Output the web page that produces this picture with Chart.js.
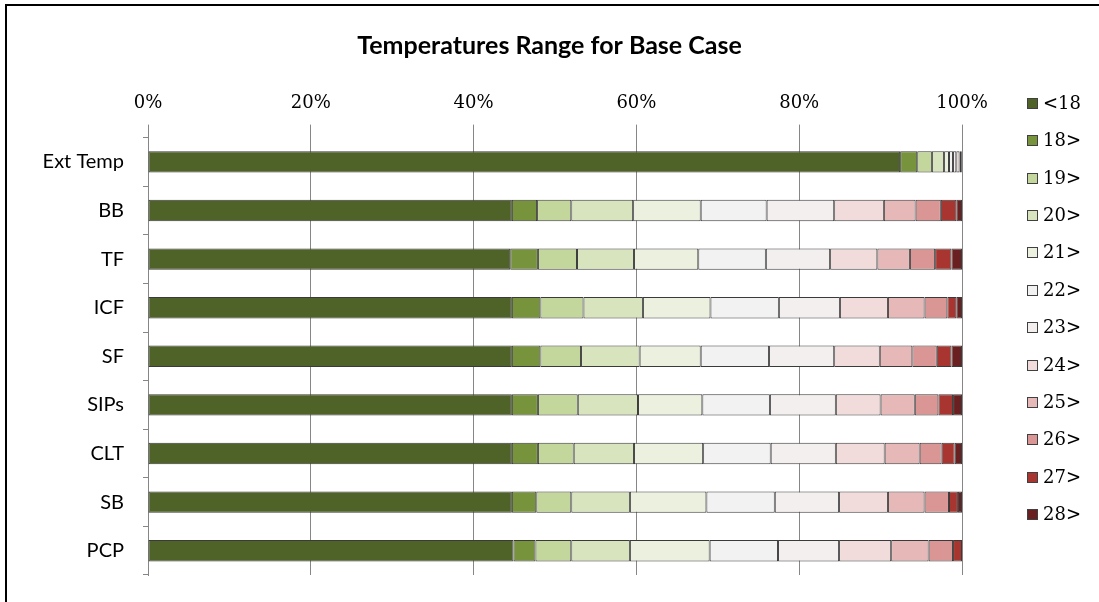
<!DOCTYPE html>
<html>
<head>
<meta charset="utf-8">
<title>Temperatures Range for Base Case</title>
<script src="https://cdn.jsdelivr.net/npm/chart.js@4.4.1/dist/chart.umd.min.js"></script>
<style>
  html, body { margin: 0; padding: 0; background: #fff; }
  #wrap { position: relative; width: 1099px; height: 602px; overflow: hidden; }
  #frame {
    position: absolute; left: 5px; top: 4px; width: 1200px; height: 700px;
    border-top: 2px solid #000; border-left: 2px solid #000; pointer-events: none;
  }
</style>
</head>
<body>
<div id="wrap">
  <canvas id="grafico" width="1099" height="602"></canvas>
  <div id="frame"></div>
</div>
<script>
// Categorías (filas) y bandas de temperatura (series)
const casos = ['Ext Temp', 'BB', 'TF', 'ICF', 'SF', 'SIPs', 'CLT', 'SB', 'PCP'];
const bandas = ['<18', '18>', '19>', '20>', '21>', '22>', '23>', '24>', '25>', '26>', '27>', '28>'];

// Porcentaje de horas en cada banda, un valor por caso
const menos18 = [92.4, 44.7, 44.5, 44.7, 44.7, 44.7, 44.7, 44.7, 44.9];
const t18 = [2.1, 3.1, 3.4, 3.5, 3.5, 3.2, 3.2, 3.0, 2.7];
const t19 = [1.8, 4.2, 4.8, 5.3, 5.0, 4.9, 4.4, 4.3, 4.4];
const t20 = [1.5, 7.6, 7.0, 7.3, 7.2, 7.4, 7.4, 7.2, 7.2];
const t21 = [0.6, 8.3, 7.9, 8.3, 7.5, 7.9, 8.5, 9.4, 9.8];
const t22 = [0.5, 8.1, 8.3, 8.4, 8.4, 8.3, 8.3, 8.4, 8.4];
const t23 = [0.4, 8.3, 7.9, 7.5, 8.0, 8.1, 8.0, 7.9, 7.5];
const t24 = [0.4, 6.1, 5.8, 5.9, 5.6, 5.5, 6.0, 6.0, 6.4];
const t25 = [0.2, 3.9, 4.0, 4.5, 4.0, 4.2, 4.3, 4.5, 4.6];
const t26 = [0.1, 3.1, 3.1, 2.8, 3.0, 2.9, 2.7, 3.0, 3.0];
const t27 = [0.0, 1.9, 2.0, 1.1, 1.8, 1.8, 1.6, 1.1, 1.1];
const t28 = [0.0, 0.7, 1.3, 0.7, 1.3, 1.1, 0.9, 0.5, 0.0];

const valores = [menos18, t18, t19, t20, t21, t22, t23, t24, t25, t26, t27, t28];

// Colores de cada banda (verde -> blanco -> rojo)
const colores = ['#4f6228', '#77933c', '#c3d69b', '#d7e4bd', '#ebf1de', '#f2f2f2',
                 '#f4efef', '#f2dcdb', '#e6b9b8', '#d99694', '#a8352f', '#6a2020'];

// Leyenda a la derecha, dibujada a mano para colocarla como en el original
const leyendaDerecha = {
    id: 'leyendaDerecha',
    afterDraw(chart) {
        const ctx = chart.ctx;
        ctx.save();
        chart.data.datasets.forEach((ds, i) => {
            const y = Math.round(103 + i * 37.36);
            ctx.fillStyle = ds.backgroundColor;
            ctx.fillRect(1027, y - 5, 11, 11);
            ctx.strokeStyle = '#404040';
            ctx.lineWidth = 1;
            ctx.strokeRect(1027.5, y - 4.5, 10, 10);
            ctx.fillStyle = '#000';
            ctx.font = '18px "DejaVu Serif"';
            ctx.textBaseline = 'middle';
            ctx.textAlign = 'left';
            ctx.fillText(ds.label, 1043, y + 1);
        });
        ctx.restore();
    }
};

const datasets = bandas.map((banda, i) => ({
    label: banda,
    data: valores[i],
    backgroundColor: colores[i],
    borderColor: '#3a3a3a',
    borderWidth: 1,
    borderSkipped: false,
    barPercentage: 0.44,
    categoryPercentage: 1.0
}));

new Chart(document.getElementById('grafico'), {
    type: 'bar',
    data: { labels: casos, datasets: datasets },
    options: {
        indexAxis: 'y',
        responsive: false,
        animation: false,
        layout: { padding: { top: 8, left: 0, right: 0, bottom: 27 } },
        plugins: {
            legend: { display: false },
            tooltip: { enabled: false },
            title: {
                display: true,
                text: 'Temperatures Range for Base Case',
                color: '#000',
                font: { family: 'Lato', size: 25, weight: 'bold' },
                padding: { top: 23, bottom: 22 }
            }
        },
        scales: {
            x: {
                stacked: true,
                position: 'top',
                min: 0,
                max: 100,
                ticks: {
                    stepSize: 20,
                    callback: v => v + '%',
                    color: '#000',
                    font: { family: 'DejaVu Serif', size: 18 },
                    padding: 10
                },
                grid: { color: '#868686', tickLength: 13 },
                border: { display: false }
            },
            y: {
                stacked: true,
                ticks: {
                    color: '#000',
                    font: { family: 'Lato', size: 20 },
                    padding: 19
                },
                grid: { offset: true, drawOnChartArea: false, tickLength: 5, color: '#868686' },
                border: { display: true, color: '#868686' },
                afterFit: escala => {
                    escala.width = 148;
                    escala.paddingTop = 0;
                    escala.paddingBottom = 0;
                }
            },
            // eje vacío a la derecha: deja sitio para la leyenda
            hueco: {
                axis: 'y',
                type: 'category',
                position: 'right',
                ticks: { display: false },
                grid: { display: false },
                border: { display: false },
                afterFit: escala => { escala.width = 137; }
            }
        }
    },
    plugins: [leyendaDerecha]
});
</script>
</body>
</html>
